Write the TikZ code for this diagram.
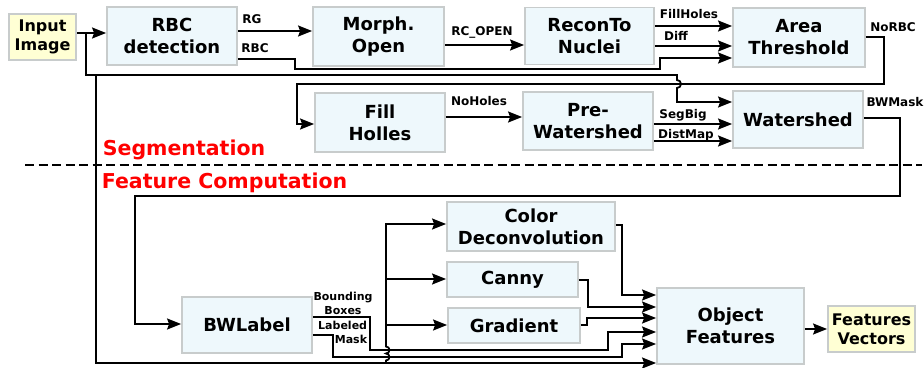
\documentclass[tikz,border=0pt]{standalone}
\usepackage{fontspec}
\setmainfont{DejaVu Sans}
\usetikzlibrary{arrows.meta,positioning}
\definecolor{boxblue}{RGB}{238,248,252}
\definecolor{boxyellow}{RGB}{255,255,212}
\definecolor{boxline}{RGB}{200,204,204}

\begin{document}
\begin{tikzpicture}[x=1pt,y=-1pt,
line width=1.8pt,
block/.style ={draw=boxline,fill=boxblue,align=center,inner sep=0pt,
  font=\fontsize{18}{22}\selectfont\bfseries},
io/.style ={block,fill=boxyellow,font=\fontsize{16}{19}\selectfont\bfseries},
lbl/.style ={inner sep=0pt,align=center,font=\fontsize{12}{14.5}\selectfont\bfseries},
title/.style ={anchor=base west,inner sep=0pt,text=red,font=\fontsize{20.5}{24}\selectfont\bfseries},
edge/.style = {->,> = {Stealth[length=14pt,width=11pt,inset=2pt]}}]

\useasboundingbox (0,0) rectangle (924,367);

\node[io,minimum width=67pt,minimum height=46pt] (input) at (42.5,37) {Input\\Image};
\node[block,minimum width=130pt,minimum height=58pt] (rbc) at (172,36) {RBC\\detection};
\node[block,minimum width=131pt,minimum height=59pt] (morph) at (378.5,36.5) {Morph.\\Open};
\node[block,minimum width=129pt,minimum height=57pt] (recon) at (589.5,36) {ReconTo\\Nuclei};
\node[block,minimum width=132pt,minimum height=59pt] (area) at (799,37.5) {Area\\Threshold};

\node[block,minimum width=130pt,minimum height=59pt] (fill) at (380,122.5) {Fill\\Holles};
\node[block,minimum width=130pt,minimum height=58pt] (prews) at (588,121) {Pre-\\Watershed};
\node[block,minimum width=130pt,minimum height=57pt] (ws) at (798,119.5) {Watershed};

\node[block,minimum width=130pt,minimum height=56pt] (bwl) at (247,325) {BWLabel};
\node[block,minimum width=168pt,minimum height=49pt] (cdec) at (531,226.5) {Color\\Deconvolution};
\node[block,minimum width=131pt,minimum height=35pt] (canny) at (512.5,279.5) {Canny};
\node[block,minimum width=132pt,minimum height=35pt] (grad) at (514,325.5) {Gradient};
\node[block,minimum width=147pt,minimum height=76pt] (objf) at (730.5,326) {Object\\Features};
\node[io,minimum width=87pt,minimum height=46pt] (fvec) at (871.5,329) {Features\\Vectors};

\node[title] (seg) at (102,155) {Segmentation};
\node[title] (feat) at (101,188) {Feature Computation};
\draw[line width=2pt,dash pattern=on 9pt off 4.5pt] (25,165) -- (922,165);

\node[lbl] (l_rg) at (252,19) {RG};
\node[lbl] (l_rbc) at (255,48) {RBC};
\node[lbl] (l_open) at (482,32) {RC\_OPEN};
\node[lbl] (l_fh) at (689,14) {FillHoles};
\node[lbl] (l_diff) at (676,36) {Diff};
\node[lbl] (l_norbc) at (893,27) {NoRBC};
\node[lbl] (l_nh) at (479,101) {NoHoles};
\node[lbl] (l_sb) at (683,115) {SegBig};
\node[lbl] (l_dm) at (686,135) {DistMap};
\node[lbl] (l_bw) at (895,102) {BWMask};
\node[lbl,font=\fontsize{11}{14}\selectfont\bfseries] (l_bb) at (343,303) {Bounding\\Boxes};
\node[lbl,font=\fontsize{11}{14}\selectfont\bfseries,align=right,anchor=east] (l_lm) at (368,332) {Labeled\\Mask};

\coordinate (split) at (86,33);
\coordinate (fork) at (96,75);
\coordinate (tap) at (386,363);

\draw[edge] (input.east |- split) -- (rbc.west |- split);
\draw[edge] (split) -- (86,75) -- (677,75) -- (677,80) arc[start angle=-90,end angle=90,radius=4] -- (677,102) -- (ws.west |- 0,102);
\draw[edge] (fork) -- (96,363) -- (objf.west |- tap);

\draw[edge] (rbc.east |- 0,31) -- (morph.west |- 0,31);
\draw[edge] (rbc.east |- 0,59) -- (295,59) -- (295,69) -- (660,69) -- (660,58) -- (area.west |- 0,58);
\draw[edge] (morph.east |- 0,45) -- (recon.west |- 0,45);
\draw[edge] (recon.east |- 0,26) -- (area.west |- 0,26);
\draw[edge] (recon.east |- 0,46) -- (area.west |- 0,46);
\draw[edge] (area.east |- 0,37) -- (884,37) -- (884,84) -- (297,84) -- (297,124) -- (fill.west |- 0,124);

\draw[edge] (fill.east |- 0,117) -- (prews.west |- 0,117);
\draw[edge] (prews.east |- 0,124) -- (ws.west |- 0,124);
\draw[edge] (prews.east |- 0,141) -- (ws.west |- 0,141);
\draw[edge] (ws.east |- 0,118) -- (900,118) -- (900,196) -- (135,196) -- (135,324) -- (bwl.west |- 0,324);

\draw[edge] (tap) -- (386,360.5) arc[start angle=90,end angle=-90,radius=3.5] arc[start angle=90,end angle=-90,radius=3.5] -- (386,224) -- (cdec.west |- 0,224);
\draw[edge] (386,279) -- (canny.west |- 0,279);
\draw[edge] (386,325) -- (grad.west |- 0,325);

\draw[edge] (bwl.east |- 0,317) -- (370,317) -- (370,350) -- (608,350) -- (608,332) -- (objf.west |- 0,332);
\draw[edge] (bwl.east |- 0,335) -- (333,335) -- (333,357) -- (622,357) -- (622,344) -- (objf.west |- 0,344);
\draw[edge] (cdec.east |- 0,225) -- (622,225) -- (622,295) -- (objf.west |- 0,295);
\draw[edge] (canny.east |- 0,280) -- (588,280) -- (588,307) -- (objf.west |- 0,307);
\draw[edge] (grad.east |- 0,325) -- (587,325) -- (587,318) -- (objf.west |- 0,318);
\draw[edge] (objf.east |- fvec) -- (fvec.west);

\end{tikzpicture}
\end{document}
